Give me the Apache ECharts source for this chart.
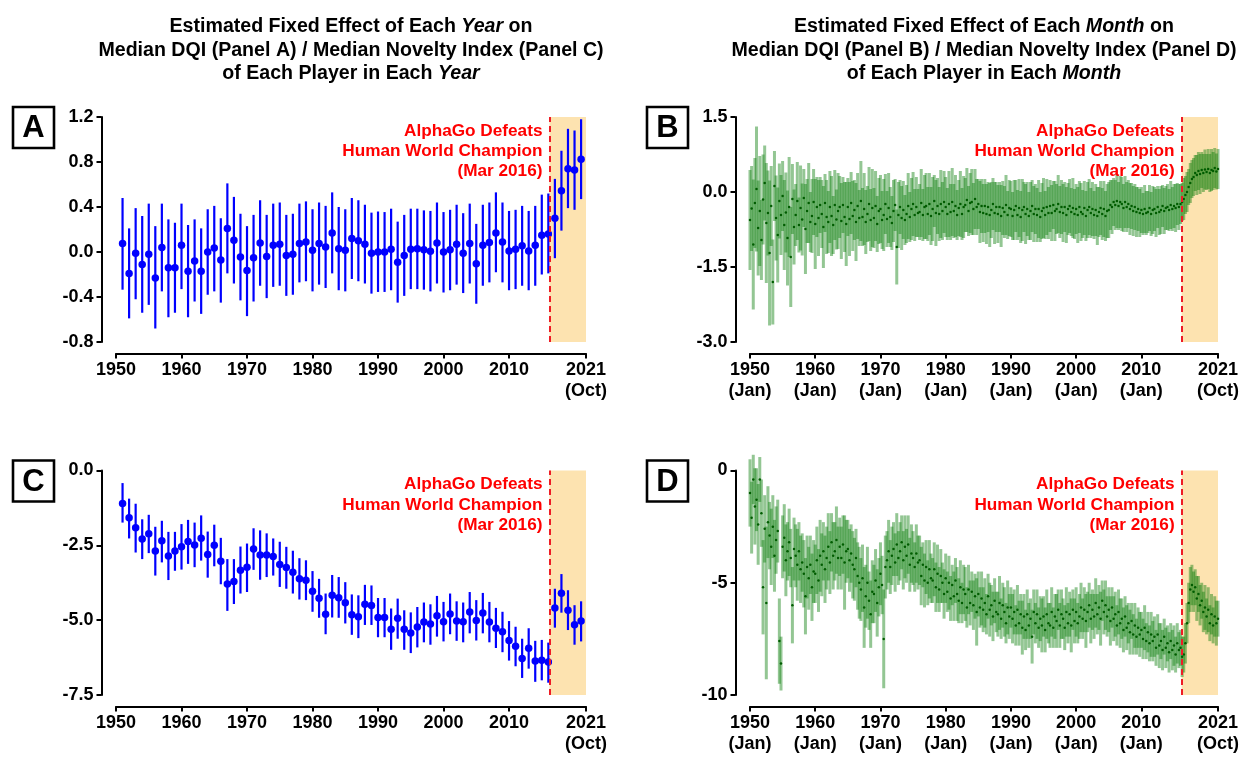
<!DOCTYPE html>
<html><head><meta charset="utf-8">
<script src="https://cdn.jsdelivr.net/npm/echarts@6/dist/echarts.min.js"></script>
<style>html,body{margin:0;padding:0;background:#fff}#c{width:1244px;height:758px}</style>
</head><body><div id="c"></div>
<script>
// ---------- DATA ----------
const yearsAC = [1951,1952,1953,1954,1955,1956,1957,1958,1959,1960,1961,1962,1963,1964,1965,1966,1967,1968,1969,1970,
1971,1972,1973,1974,1975,1976,1977,1978,1979,1980,1981,1982,1983,1984,1985,1986,1987,1988,1989,1990,
1991,1992,1993,1994,1995,1996,1997,1998,1999,2000,2001,2002,2003,2004,2005,2006,2007,2008,2009,2010,
2011,2012,2013,2014,2015,2016,2017,2018,2019,2020,2021];

const aCenter = [0.076,-0.19,-0.01,-0.11,-0.02,-0.23,0.04,-0.14,-0.14,0.06,
-0.17,-0.08,-0.17,0.0,0.035,-0.07,0.21,0.105,-0.045,-0.165,
-0.05,0.08,-0.04,0.06,0.07,-0.03,-0.02,0.075,0.09,0.015,
0.075,0.045,0.17,0.03,0.015,0.12,0.10,0.07,-0.01,0.0,
0.0,0.025,-0.09,-0.03,0.025,0.03,0.02,0.006,0.08,0.0,
0.02,0.07,-0.01,0.075,-0.105,0.06,0.085,0.17,0.09,0.01,
0.025,0.055,0.01,0.06,0.15,0.16,0.30,0.545,0.74,0.73,0.825];
const aUpper = [0.48,0.21,0.39,0.32,0.43,0.23,0.43,0.29,0.26,0.43,
0.24,0.29,0.21,0.38,0.41,0.30,0.61,0.49,0.34,0.23,
0.33,0.46,0.33,0.43,0.44,0.33,0.34,0.43,0.45,0.38,
0.44,0.41,0.53,0.40,0.38,0.48,0.46,0.42,0.35,0.36,
0.355,0.385,0.27,0.33,0.385,0.385,0.37,0.365,0.44,0.355,
0.375,0.42,0.345,0.43,0.25,0.42,0.44,0.53,0.44,0.365,
0.375,0.41,0.365,0.41,0.51,0.52,0.65,0.90,1.095,1.08,1.18];
const aLower = [-0.335,-0.59,-0.42,-0.54,-0.47,-0.68,-0.35,-0.58,-0.54,-0.33,
-0.58,-0.44,-0.55,-0.38,-0.35,-0.45,-0.19,-0.28,-0.43,-0.57,
-0.44,-0.30,-0.41,-0.31,-0.30,-0.39,-0.38,-0.27,-0.26,-0.35,
-0.29,-0.32,-0.19,-0.34,-0.35,-0.24,-0.26,-0.28,-0.37,-0.355,
-0.355,-0.34,-0.45,-0.39,-0.33,-0.33,-0.335,-0.35,-0.28,-0.36,
-0.34,-0.29,-0.365,-0.28,-0.46,-0.30,-0.27,-0.18,-0.27,-0.34,
-0.33,-0.30,-0.34,-0.30,-0.20,-0.19,-0.055,0.19,0.39,0.375,0.47];

const cCenter = [-1.10,-1.58,-1.91,-2.29,-2.11,-2.69,-2.35,-2.86,-2.69,-2.55,
-2.37,-2.49,-2.26,-2.81,-2.50,-3.03,-3.79,-3.71,-3.33,-3.23,
-2.62,-2.82,-2.82,-2.87,-3.14,-3.24,-3.40,-3.62,-3.67,-4.03,
-4.27,-4.80,-4.17,-4.25,-4.42,-4.82,-4.89,-4.47,-4.51,-4.91,
-4.91,-5.30,-4.94,-5.30,-5.43,-5.23,-5.06,-5.13,-4.85,-5.05,
-4.79,-5.03,-5.05,-4.73,-5.01,-4.76,-5.06,-5.27,-5.39,-5.68,
-5.87,-6.28,-5.94,-6.36,-6.34,-6.40,-4.59,-4.10,-4.67,-5.15,-5.03];
const cUpper = [-0.42,-0.94,-1.11,-1.63,-1.48,-1.88,-1.68,-2.05,-2.05,-1.79,
-1.65,-1.74,-1.50,-2.04,-1.81,-2.25,-2.96,-2.96,-2.54,-2.44,
-1.93,-2.00,-2.10,-2.27,-2.38,-2.55,-2.68,-2.93,-3.00,-3.36,
-3.62,-4.11,-3.49,-3.56,-3.73,-4.14,-4.17,-3.82,-3.84,-4.26,
-4.26,-4.61,-4.28,-4.67,-4.74,-4.56,-4.41,-4.47,-4.19,-4.39,
-4.11,-4.37,-4.41,-4.06,-4.33,-4.09,-4.39,-4.59,-4.72,-5.03,
-5.22,-5.62,-5.27,-5.69,-5.66,-5.75,-3.95,-3.46,-4.00,-4.50,-4.37];
const cLower = [-1.74,-2.27,-2.74,-2.96,-2.76,-3.51,-3.07,-3.66,-3.35,-3.31,
-3.12,-3.23,-3.01,-3.58,-3.20,-3.80,-4.69,-4.46,-4.11,-4.06,
-3.32,-3.65,-3.56,-3.51,-3.89,-3.95,-4.11,-4.31,-4.33,-4.72,
-4.92,-5.47,-4.91,-4.92,-5.11,-5.49,-5.60,-5.16,-5.16,-5.57,
-5.57,-5.99,-5.62,-5.99,-6.10,-5.91,-5.74,-5.82,-5.55,-5.71,
-5.47,-5.69,-5.74,-5.44,-5.68,-5.44,-5.74,-5.93,-6.07,-6.35,
-6.54,-6.93,-6.62,-7.06,-7.01,-7.09,-5.25,-4.75,-5.33,-5.82,-5.71];

// Panels B / D: one estimate per quarter, Jan 1950 ... Oct 2021
const quarterStart = 1950, quarterStep = 0.25;
const bCenter = [
/*1950-51*/ -0.56,-0.33,-1.05,-0.22, 0.06,-0.72,-0.38,-0.96,
/*1952-53*/ -0.15,0.18,-0.62,-0.42, -1.22,-0.28,-1.80,0.12,
/*1954-55*/ -0.52,-0.86,-0.18,-0.46, -0.08,-0.66,-0.41,-0.92,
/*1956-57*/ -0.30,-1.30,-0.14,-0.70, -0.46,-0.18,-0.66,-0.32,
/*1958-59*/ -0.55,-0.12,-0.74,-0.38, -0.22,-0.60,-0.48,-0.20,
/*1960-61*/ -0.64,-0.30,-0.52,-0.26, -0.44,-0.70,-0.22,-0.50,
/*1962-63*/ -0.60,-0.30,-0.48,-0.66, -0.26,-0.55,-0.38,-0.30,
/*1964-65*/ -0.58,-0.26,-0.50,-0.64, -0.30,-0.54,-0.22,-0.48,
/*1966-67*/ -0.36,-0.60,-0.28,-0.52, -0.18,-0.50,-0.34,-0.60,
/*1968-69*/ -0.44,-0.24,-0.56,-0.32, -0.52,-0.28,-0.64,-0.38,
/*1970-71*/ -0.34,-0.56,-0.46,-0.24, -0.54,-0.32,-0.50,-0.62,
/*1972-73*/ -0.38,-0.26,-1.10,-0.46, -0.30,-0.52,-0.36,-0.56,
/*1974-75*/ -0.44,-0.28,-0.50,-0.34, -0.24,-0.46,-0.30,-0.42,
/*1976-77*/ -0.40,-0.22,-0.46,-0.30, -0.28,-0.44,-0.24,-0.48,
/*1978-79*/ -0.34,-0.18,-0.42,-0.28, -0.44,-0.24,-0.38,-0.20,
/*1980-81*/ -0.30,-0.44,-0.24,-0.40, -0.20,-0.38,-0.28,-0.46,
/*1982-83*/ -0.32,-0.24,-0.44,-0.30, -0.26,-0.16,-0.38,-0.22,
/*1984-85*/ -0.20,-0.34,-0.14,-0.30, -0.24,-0.40,-0.28,-0.42,
/*1986-87*/ -0.28,-0.44,-0.30,-0.46, -0.36,-0.24,-0.42,-0.30,
/*1988-89*/ -0.44,-0.30,-0.48,-0.32, -0.40,-0.26,-0.46,-0.32,
/*1990-91*/ -0.34,-0.48,-0.36,-0.28, -0.46,-0.32,-0.50,-0.36,
/*1992-93*/ -0.30,-0.44,-0.34,-0.48, -0.38,-0.28,-0.44,-0.34,
/*1994-95*/ -0.46,-0.34,-0.50,-0.38, -0.32,-0.46,-0.30,-0.42,
/*1996-97*/ -0.28,-0.42,-0.26,-0.38, -0.34,-0.24,-0.40,-0.30,
/*1998-99*/ -0.42,-0.30,-0.46,-0.34, -0.28,-0.40,-0.32,-0.44,
/*2000-01*/ -0.34,-0.46,-0.30,-0.40, -0.44,-0.32,-0.48,-0.36,
/*2002-03*/ -0.30,-0.42,-0.34,-0.46, -0.36,-0.48,-0.40,-0.32,
/*2004-05*/ -0.44,-0.34,-0.48,-0.38, -0.36,-0.26,-0.30,-0.20,
/*2006-07*/ -0.26,-0.18,-0.28,-0.20, -0.24,-0.32,-0.20,-0.30,
/*2008-09*/ -0.24,-0.34,-0.28,-0.38, -0.30,-0.40,-0.34,-0.42,
/*2010-11*/ -0.36,-0.44,-0.34,-0.42, -0.40,-0.32,-0.44,-0.36,
/*2012-13*/ -0.34,-0.42,-0.30,-0.40, -0.36,-0.28,-0.38,-0.32,
/*2014-15*/ -0.30,-0.36,-0.26,-0.34, -0.28,-0.32,-0.24,-0.30,
/*2016-17*/ -0.24,-0.20,-0.14,-0.06, 0.00,0.10,0.18,0.26,
/*2018-19*/ 0.30,0.38,0.34,0.42, 0.36,0.44,0.38,0.45,
/*2020-21*/ 0.40,0.46,0.38,0.44, 0.42,0.48,0.41,0.46];
const bHalf = [
/*1950-51*/ 1.00,0.85,1.30,0.90, 1.25,0.95,1.10,0.80,
/*1952-53*/ 0.90,0.75,1.20,0.85, 1.45,0.80,0.85,0.70,
/*1954-55*/ 0.85,0.95,0.75,0.80, 0.70,0.90,0.80,0.95,
/*1956-57*/ 1.00,1.00,0.70,0.75, 0.62,0.78,0.55,0.85,
/*1958-59*/ 0.72,0.58,0.90,0.64, 0.80,0.60,0.74,0.66,
/*1960-61*/ 0.90,0.60,0.76,0.56, 0.68,0.82,0.58,0.74,
/*1962-63*/ 0.62,0.72,0.80,0.58, 0.70,0.60,0.76,0.62,
/*1964-65*/ 0.76,0.56,0.70,0.84, 0.58,0.74,0.62,0.70,
/*1966-67*/ 0.60,0.78,0.66,0.56, 0.80,0.58,0.72,0.64,
/*1968-69*/ 0.56,0.74,0.62,0.78, 0.60,0.70,0.56,0.66,
/*1970-71*/ 0.68,0.58,0.72,0.60, 0.56,0.70,0.60,0.54,
/*1972-73*/ 0.62,0.52,0.75,0.66, 0.54,0.64,0.58,0.50,
/*1974-75*/ 0.58,0.66,0.50,0.62, 0.64,0.52,0.60,0.48,
/*1976-77*/ 0.56,0.68,0.52,0.64, 0.66,0.54,0.62,0.58,
/*1978-79*/ 0.64,0.52,0.66,0.56, 0.54,0.68,0.58,0.62,
/*1980-81*/ 0.60,0.52,0.66,0.56, 0.68,0.54,0.62,0.50,
/*1982-83*/ 0.56,0.66,0.52,0.62, 0.54,0.64,0.50,0.60,
/*1984-85*/ 0.66,0.52,0.60,0.56, 0.50,0.62,0.54,0.58,
/*1986-87*/ 0.54,0.60,0.50,0.64, 0.56,0.52,0.62,0.50,
/*1988-89*/ 0.58,0.50,0.62,0.54, 0.52,0.60,0.48,0.56,
/*1990-91*/ 0.56,0.48,0.60,0.52, 0.50,0.58,0.52,0.62,
/*1992-93*/ 0.50,0.60,0.54,0.48, 0.58,0.52,0.56,0.50,
/*1994-95*/ 0.54,0.58,0.50,0.56, 0.60,0.48,0.56,0.52,
/*1996-97*/ 0.52,0.56,0.48,0.60, 0.50,0.58,0.52,0.54,
/*1998-99*/ 0.58,0.50,0.56,0.52, 0.54,0.48,0.60,0.50,
/*2000-01*/ 0.50,0.56,0.52,0.58, 0.48,0.54,0.50,0.56,
/*2002-03*/ 0.56,0.50,0.54,0.48, 0.52,0.58,0.50,0.54,
/*2004-05*/ 0.52,0.56,0.50,0.54, 0.56,0.50,0.54,0.48,
/*2006-07*/ 0.50,0.54,0.48,0.52, 0.54,0.48,0.52,0.50,
/*2008-09*/ 0.48,0.52,0.46,0.50, 0.46,0.50,0.44,0.48,
/*2010-11*/ 0.46,0.42,0.48,0.44, 0.42,0.46,0.44,0.48,
/*2012-13*/ 0.44,0.48,0.42,0.46, 0.48,0.42,0.46,0.44,
/*2014-15*/ 0.46,0.42,0.48,0.44, 0.44,0.48,0.42,0.46,
/*2016-17*/ 0.40,0.38,0.42,0.38, 0.40,0.36,0.40,0.38,
/*2018-19*/ 0.38,0.36,0.40,0.38, 0.40,0.36,0.38,0.40,
/*2020-21*/ 0.36,0.40,0.38,0.42, 0.38,0.40,0.36,0.40];
const dCenter = [
/*1950-51*/ -1.0,-2.1,-0.4,-1.6, -1.3,-2.4,-0.4,-1.9,
/*1952-53*/ -5.2,-2.6,-5.9,-2.3, -2.9,-3.4,-2.5,-3.8,
/*1954-55*/ -3.1,-2.7,-7.6,-8.6, -3.4,-3.0,-4.0,-3.6,
/*1956-57*/ -3.2,-3.9,-6.0,-3.5, -3.8,-4.2,-3.6,-4.4,
/*1958-59*/ -4.1,-4.6,-5.6,-4.3, -4.8,-4.2,-5.2,-4.5,
/*1960-61*/ -4.6,-4.0,-4.9,-3.8, -4.2,-3.6,-4.4,-3.9,
/*1962-63*/ -3.4,-4.1,-3.2,-3.8, -3.6,-3.1,-3.9,-3.4,
/*1964-65*/ -3.9,-3.3,-4.1,-3.6, -3.5,-4.0,-3.7,-4.2,
/*1966-67*/ -4.4,-3.9,-4.7,-5.0, -5.3,-4.8,-6.1,-5.6,
/*1968-69*/ -5.0,-5.8,-6.4,-5.4, -5.5,-4.9,-5.9,-5.2,
/*1970-71*/ -4.6,-5.1,-7.5,-4.3, -4.0,-3.6,-4.3,-3.8,
/*1972-73*/ -3.5,-4.1,-3.3,-3.9, -3.6,-3.2,-4.0,-3.4,
/*1974-75*/ -3.8,-3.3,-4.2,-3.7, -3.9,-4.3,-3.7,-4.1,
/*1976-77*/ -4.0,-4.7,-4.2,-4.9, -4.3,-5.0,-4.4,-4.8,
/*1978-79*/ -4.9,-4.4,-5.2,-4.6, -5.3,-4.7,-5.0,-5.5,
/*1980-81*/ -4.8,-5.4,-5.0,-5.7, -5.1,-5.6,-4.9,-5.5,
/*1982-83*/ -5.8,-5.2,-5.9,-5.3, -5.5,-6.1,-5.3,-5.9,
/*1984-85*/ -5.4,-6.0,-5.6,-6.3, -5.5,-6.1,-5.7,-6.2,
/*1986-87*/ -5.9,-6.4,-5.6,-6.2, -6.0,-6.5,-5.8,-6.3,
/*1988-89*/ -6.4,-5.9,-6.6,-6.0, -6.3,-6.8,-6.1,-6.5,
/*1990-91*/ -6.1,-6.6,-6.3,-6.9, -6.2,-6.8,-6.4,-7.0,
/*1992-93*/ -6.5,-7.1,-6.4,-6.9, -6.6,-7.4,-6.3,-6.8,
/*1994-95*/ -6.4,-7.0,-6.6,-6.9, -6.5,-7.1,-6.4,-6.8,
/*1996-97*/ -6.9,-6.3,-7.0,-6.5, -6.7,-6.2,-6.9,-6.4,
/*1998-99*/ -6.6,-7.0,-6.3,-6.8, -6.4,-6.9,-6.2,-6.7,
/*2000-01*/ -6.3,-6.8,-6.5,-6.1, -6.6,-6.2,-6.7,-6.3,
/*2002-03*/ -6.0,-6.6,-6.2,-6.5, -5.9,-6.4,-6.1,-6.6,
/*2004-05*/ -5.8,-6.3,-6.0,-6.5, -6.2,-6.7,-6.1,-6.6,
/*2006-07*/ -6.4,-6.9,-6.3,-6.8, -6.6,-7.1,-6.5,-7.0,
/*2008-09*/ -6.8,-7.2,-6.7,-7.3, -6.9,-7.4,-7.0,-7.3,
/*2010-11*/ -7.1,-7.5,-7.0,-7.6, -7.2,-7.7,-7.3,-7.6,
/*2012-13*/ -7.4,-7.9,-7.3,-7.8, -7.6,-8.0,-7.4,-7.9,
/*2014-15*/ -7.7,-8.1,-7.6,-8.0, -7.8,-8.2,-7.7,-8.0,
/*2016-17*/ -7.9,-8.3,-8.2,-7.7, -6.8,-5.9,-5.3,-5.1,
/*2018-19*/ -5.4,-5.2,-5.7,-5.5, -6.0,-5.8,-6.3,-6.1,
/*2020-21*/ -6.5,-6.2,-6.8,-6.4, -6.9,-6.5,-6.8,-6.6];
const dHalf = [
/*1950-51*/ 1.5,1.6,1.1,1.7, 1.4,1.8,1.0,1.5,
/*1952-53*/ 2.1,1.5,3.4,1.6, 1.5,1.7,1.4,1.6,
/*1954-55*/ 1.5,1.4,1.9,1.2, 1.4,1.5,1.6,1.3,
/*1956-57*/ 1.5,1.3,1.7,1.4, 1.4,1.6,1.3,1.5,
/*1958-59*/ 1.3,1.5,1.7,1.4, 1.4,1.3,1.5,1.4,
/*1960-61*/ 1.3,1.5,1.4,1.6, 1.4,1.3,1.5,1.4,
/*1962-63*/ 1.5,1.4,1.3,1.5, 1.3,1.5,1.4,1.3,
/*1964-65*/ 1.4,1.3,2.1,1.4, 1.3,1.4,1.3,1.5,
/*1966-67*/ 1.4,1.3,1.5,1.6, 1.4,1.5,1.8,1.4,
/*1968-69*/ 1.6,1.3,1.5,1.4, 1.3,1.4,1.5,1.3,
/*1970-71*/ 1.4,1.3,2.2,1.4, 1.3,1.4,1.2,1.3,
/*1972-73*/ 1.2,1.3,1.4,1.2, 1.3,1.2,1.3,1.4,
/*1974-75*/ 1.2,1.3,1.2,1.3, 1.2,1.1,1.3,1.2,
/*1976-77*/ 1.1,1.3,1.0,1.2, 1.2,1.0,1.3,1.1,
/*1978-79*/ 1.0,1.2,1.1,1.3, 1.0,1.2,0.9,1.1,
/*1980-81*/ 1.1,0.9,1.2,1.0, 0.9,1.1,1.0,1.2,
/*1982-83*/ 1.0,1.2,0.9,1.1, 1.2,0.9,1.1,1.0,
/*1984-85*/ 0.9,1.1,1.0,1.5, 1.0,0.9,1.2,1.0,
/*1986-87*/ 1.1,0.9,1.0,1.2, 0.9,1.1,1.0,0.9,
/*1988-89*/ 1.0,1.2,0.9,1.0, 1.1,0.9,1.2,1.0,
/*1990-91*/ 0.9,1.1,1.0,0.9, 1.1,1.0,0.9,1.2,
/*1992-93*/ 1.0,0.9,1.1,1.0, 0.9,1.2,1.0,0.9,
/*1994-95*/ 1.1,0.9,1.0,1.2, 0.9,1.0,1.1,0.9,
/*1996-97*/ 1.0,1.1,0.9,1.0, 1.2,0.9,1.0,1.1,
/*1998-99*/ 0.9,1.0,1.1,0.9, 1.0,1.2,0.9,1.0,
/*2000-01*/ 1.1,0.9,1.0,1.1, 0.9,1.0,1.2,0.9,
/*2002-03*/ 1.0,1.1,0.9,1.0, 1.1,0.9,1.0,1.2,
/*2004-05*/ 0.9,1.0,1.1,0.9, 1.0,1.1,0.9,1.0,
/*2006-07*/ 1.0,0.9,1.0,1.1, 0.9,1.0,0.9,1.0,
/*2008-09*/ 0.9,1.0,0.8,0.9, 1.0,0.8,0.9,1.0,
/*2010-11*/ 0.8,0.9,1.0,0.8, 0.9,0.8,1.0,0.9,
/*2012-13*/ 0.9,0.8,0.9,1.0, 0.8,0.9,0.8,0.9,
/*2014-15*/ 0.8,0.9,0.8,0.9, 0.9,0.8,0.9,0.8,
/*2016-17*/ 0.8,0.9,0.8,0.9, 0.9,0.9,1.0,0.9,
/*2018-19*/ 0.9,0.8,1.0,0.8, 0.9,0.8,0.9,1.0,
/*2020-21*/ 0.8,1.0,0.8,0.9, 0.8,0.9,1.0,0.8];

const xTickValues = [1950,1960,1970,1980,1990,2000,2010,2021.75];
const xTickLabelsAC = ['1950','1960','1970','1980','1990','2000','2010','2021\n(Oct)'];
const xTickLabelsBD = ['1950\n(Jan)','1960\n(Jan)','1970\n(Jan)','1980\n(Jan)','1990\n(Jan)','2000\n(Jan)','2010\n(Jan)','2021\n(Oct)'];
const alphaGoDate = 2016.17;   // Mar 2016
const xStart = 1950, xEnd = 2021.75;
const panelLetters = ['A','B','C','D'];
const annotationText = 'AlphaGo Defeats\nHuman World Champion\n(Mar 2016)';
const titleLeft = ['Estimated Fixed Effect of Each ','Year',' on','Median DQI (Panel A) / Median Novelty Index (Panel C)','of Each Player in Each ','Year'];
const titleRight = ['Estimated Fixed Effect of Each ','Month',' on','Median DQI (Panel B) / Median Novelty Index (Panel D)','of Each Player in Each ','Month'];

// ---------- CHART ----------
const FONT = '"Liberation Sans", Arial, Helvetica, sans-serif';
const chart = echarts.init(document.getElementById('c'), null, {renderer:'canvas'});

const grids = [
  {left:116, top:117, width:470, height:225},
  {left:750, top:117, width:468, height:225},
  {left:116, top:470.5, width:470, height:224.5},
  {left:750, top:470.5, width:468, height:224.5}
];
function near(v, t){ return Math.abs(v - t) < 1e-6; }
function mkX(gi, labels){
  return {type:'value', gridIndex:gi, min:xStart, max:xEnd, position:'bottom', offset:11.5,
    axisLine:{show:true, onZero:false, lineStyle:{color:'#000', width:2}},
    axisTick:{show:true, customValues:xTickValues, length:5, lineStyle:{color:'#000', width:2}},
    axisLabel:{customValues:xTickValues, color:'#000', fontSize:18, fontWeight:'bold', fontFamily:FONT, lineHeight:21, margin:6,
      formatter:function(v){ for(let i=0;i<xTickValues.length;i++){ if(near(v,xTickValues[i])) return labels[i]; } return ''; }},
    splitLine:{show:false}};
}
function mkY(gi, min, max, interval, digits){
  return {type:'value', gridIndex:gi, min:min, max:max, interval:interval, position:'left', offset:14.5,
    axisLine:{show:true, onZero:false, lineStyle:{color:'#000', width:2}},
    axisTick:{show:true, length:5, lineStyle:{color:'#000', width:2}},
    axisLabel:{color:'#000', fontSize:18, fontWeight:'bold', fontFamily:FONT, margin:8,
      formatter:function(v){ if (Math.abs(v) < 1e-9) v = 0; return v.toFixed(digits); }},
    splitLine:{show:false}};
}
function errBar(color, width){
  return function(params, api){
    const x = api.value(0);
    const a = api.coord([x, api.value(1)]);
    const b = api.coord([x, api.value(2)]);
    return {type:'line', shape:{x1:a[0], y1:a[1], x2:b[0], y2:b[1]}, style:{stroke:color, lineWidth:width}};
  };
}

const aBars = yearsAC.map((y,i)=>[y, aLower[i], aUpper[i]]);
const aPts  = yearsAC.map((y,i)=>[y, aCenter[i]]);
const cBars = yearsAC.map((y,i)=>[y, cLower[i], cUpper[i]]);
const cPts  = yearsAC.map((y,i)=>[y, cCenter[i]]);
const bBars = bCenter.map((c,i)=>[quarterStart + i*quarterStep, c - bHalf[i], c + bHalf[i]]);
const bPts  = bCenter.map((c,i)=>[quarterStart + i*quarterStep, c]);
const dBars = dCenter.map((c,i)=>[quarterStart + i*quarterStep, c - dHalf[i], c + dHalf[i]]);
const dPts  = dCenter.map((c,i)=>[quarterStart + i*quarterStep, c]);

const series = [];
for (let gi=0; gi<4; gi++){
  series.push({type:'line', xAxisIndex:gi, yAxisIndex:gi, data:[], z:1, silent:true,
    markArea:{silent:true, itemStyle:{color:'#fde3b0'}, data:[[{xAxis:alphaGoDate},{xAxis:xEnd}]]}});
}
const blue = '#0000ff';
series.push({type:'custom', xAxisIndex:0, yAxisIndex:0, renderItem:errBar(blue, 2.2), data:aBars, z:3, encode:{x:0, y:[1,2]}});
series.push({type:'scatter', xAxisIndex:0, yAxisIndex:0, data:aPts, symbolSize:7.5, itemStyle:{color:blue, opacity:1}, z:4});
series.push({type:'custom', xAxisIndex:2, yAxisIndex:2, renderItem:errBar(blue, 2.2), data:cBars, z:3, encode:{x:0, y:[1,2]}});
series.push({type:'scatter', xAxisIndex:2, yAxisIndex:2, data:cPts, symbolSize:7.5, itemStyle:{color:blue, opacity:1}, z:4});
const greenBar = 'rgba(10,125,10,0.44)';
series.push({type:'custom', xAxisIndex:1, yAxisIndex:1, renderItem:errBar(greenBar, 3), data:bBars, z:3, encode:{x:0, y:[1,2]}});
series.push({type:'scatter', xAxisIndex:1, yAxisIndex:1, data:bPts, symbolSize:2.5, itemStyle:{color:'#005c00', opacity:1}, z:4});
series.push({type:'custom', xAxisIndex:3, yAxisIndex:3, renderItem:errBar(greenBar, 3), data:dBars, z:3, encode:{x:0, y:[1,2]}});
series.push({type:'scatter', xAxisIndex:3, yAxisIndex:3, data:dPts, symbolSize:2.5, itemStyle:{color:'#005c00', opacity:1}, z:4});
for (let gi=0; gi<4; gi++){
  series.push({type:'line', xAxisIndex:gi, yAxisIndex:gi, data:[], z:6, silent:true,
    markLine:{silent:true, symbol:['none','none'], label:{show:false},
      lineStyle:{color:'#ee1c25', type:[6,4], width:2}, data:[{xAxis:alphaGoDate}]}});
}

chart.setOption({
  animation:false,
  grid: grids,
  xAxis: [mkX(0, xTickLabelsAC), mkX(1, xTickLabelsBD), mkX(2, xTickLabelsAC), mkX(3, xTickLabelsBD)],
  yAxis: [mkY(0,-0.8,1.2,0.4,1), mkY(1,-3,1.5,1.5,1), mkY(2,-7.5,0,2.5,1), mkY(3,-10,0,5,0)],
  series: series
});

// annotations, panel letters and titles placed relative to the axes
const graphics = [];
const yTops = [1.2, 1.5, 0, 0];
for (let gi=0; gi<4; gi++){
  const p = chart.convertToPixel({xAxisIndex:gi, yAxisIndex:gi}, [alphaGoDate, yTops[gi]]);
  graphics.push({type:'text', z:10, style:{text:annotationText, x:p[0]-7, y:p[1]+4, align:'right', verticalAlign:'top',
    fill:'#ff0000', font:'bold 17.2px ' + FONT, lineHeight:20.2}});
  const g = grids[gi];
  const bx = g.left - 103, by = g.top - 10;
  graphics.push({type:'rect', z:10, shape:{x:bx, y:by, width:41, height:41}, style:{fill:'#fff', stroke:'#000', lineWidth:2.6}});
  graphics.push({type:'text', z:11, style:{text:panelLetters[gi], x:bx+20.5, y:by+21.5, align:'center', verticalAlign:'middle',
    fill:'#000', font:'bold 31px ' + FONT}});
}
function titleGraphic(parts, gi){
  const a = chart.convertToPixel({xAxisIndex:gi, yAxisIndex:gi}, [xStart, 0]);
  const b = chart.convertToPixel({xAxisIndex:gi, yAxisIndex:gi}, [xEnd, 0]);
  const cx = (a[0] + b[0]) / 2;
  return {type:'text', z:10, style:{
    text:'{b|' + parts[0] + '}{i|' + parts[1] + '}{b|' + parts[2] + '}\n{b|' + parts[3] + '}\n{b|' + parts[4] + '}{i|' + parts[5] + '}',
    x:cx, y:15, align:'center', verticalAlign:'top', fill:'#000',
    rich:{b:{fontWeight:'bold', fontSize:19.6, fontFamily:FONT, lineHeight:23.6, fill:'#000'},
          i:{fontWeight:'bold', fontStyle:'italic', fontSize:19.6, fontFamily:FONT, lineHeight:23.6, fill:'#000'}}}};
}
graphics.push(titleGraphic(titleLeft, 0));
graphics.push(titleGraphic(titleRight, 1));
chart.setOption({graphic: graphics});
</script>
</body></html>
